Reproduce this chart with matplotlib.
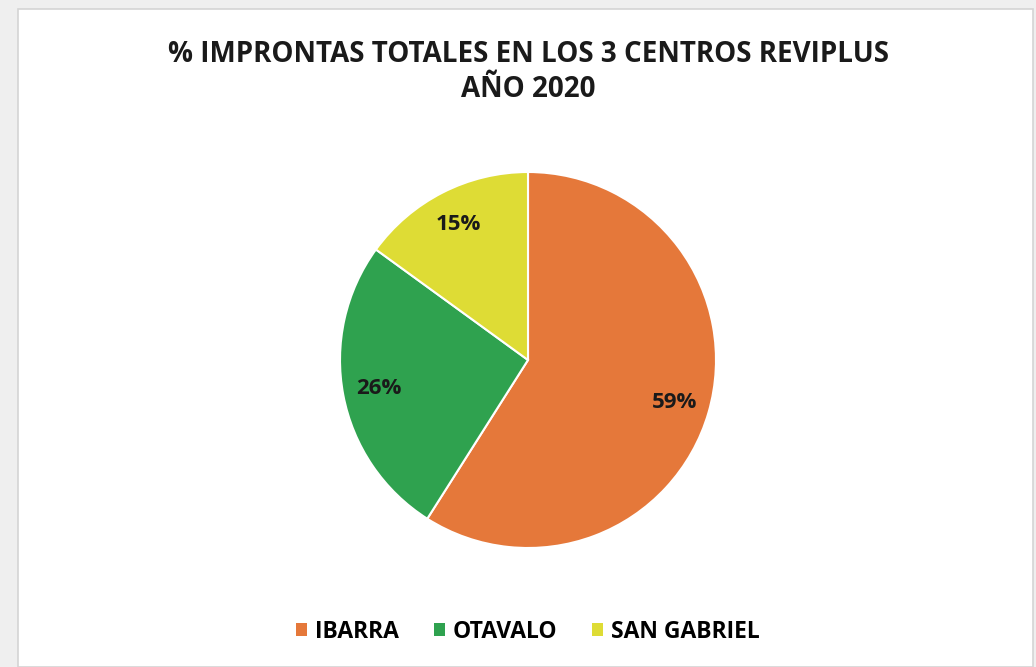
import matplotlib
matplotlib.use("Agg")
import matplotlib.pyplot as plt
from matplotlib.patches import Rectangle, Patch

# data
centros = ["IBARRA", "OTAVALO", "SAN GABRIEL"]
porcentajes = [59, 26, 15]
colores = ["#E5783A", "#2FA24F", "#DEDC35"]

W, H = 1036, 667
fig = plt.figure(figsize=(W / 100, H / 100), dpi=100)
fig.patch.set_facecolor("#EFEFEF")

# white chart area with thin gray border
fig.patches.append(Rectangle((18 / W, 0), (1033 - 18) / W, (H - 9) / H,
                             transform=fig.transFigure, facecolor="white",
                             edgecolor="#D4D4D4", linewidth=1.2, zorder=-10))

cx, cy, r = 528, 360, 188
ax = fig.add_axes([(cx - r) / W, (H - cy - r) / H, 2 * r / W, 2 * r / H])
ax.set_zorder(5)
wedges, texts, autotexts = ax.pie(
    porcentajes, colors=colores, startangle=90, counterclock=False,
    autopct="%.0f%%", pctdistance=0.81, radius=1,
    wedgeprops=dict(edgecolor="white", linewidth=1.5),
    textprops=dict(fontsize=16, fontweight="bold", color="#1a1a1a", family="Open Sans"),
)
ax.set_xlim(-1, 1)
ax.set_ylim(-1, 1)
ax.set_aspect("equal")
ax.axis("off")

fig.text(cx / W, 1 - 72 / H, "% IMPRONTAS TOTALES EN LOS 3 CENTROS REVIPLUS\nAÑO 2020",
         ha="center", va="center", fontsize=20, fontweight="bold",
         family="Open Sans", color="#1a1a1a", linespacing=1.3)

handles = [Patch(facecolor=c, edgecolor="none") for c in colores]
fig.legend(handles, centros, loc="center", bbox_to_anchor=(cx / W, 1 - 632 / H),
           ncol=3, frameon=False, handlelength=0.5, handleheight=0.5,
           handletextpad=0.35, columnspacing=1.5,
           prop=dict(size=16.5, weight="bold", family="Open Sans"))

fig.savefig("out.png", dpi=100, facecolor=fig.get_facecolor())
